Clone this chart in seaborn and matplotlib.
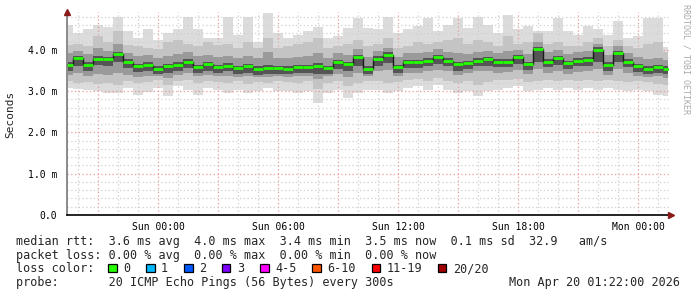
import numpy as np
import pandas as pd
import matplotlib
matplotlib.use("Agg")
import matplotlib.pyplot as plt
import matplotlib.dates as mdates
from matplotlib.ticker import MultipleLocator, FuncFormatter
from matplotlib.patches import Rectangle
import seaborn as sns

# ---------------- data (half-hour samples, Sat 19:30 -> Mon 01:30) ----------------
start_time = "2026-04-18 19:30"
n_points = 61

median_ms = [3.64, 3.80, 3.64, 3.79, 3.79, 3.90, 3.72, 3.60, 3.64, 3.55, 3.60, 3.64, 3.72, 3.58, 3.65, 3.58,
             3.62, 3.56, 3.60, 3.55, 3.57, 3.56, 3.55, 3.58, 3.58, 3.60, 3.56, 3.70, 3.65, 3.82, 3.55,
             3.79, 3.88, 3.58, 3.70, 3.70, 3.74, 3.82, 3.74, 3.65, 3.68, 3.74, 3.78, 3.72, 3.72, 3.82,
             3.66, 4.03, 3.72, 3.80, 3.68, 3.74, 3.76, 4.00, 3.64, 3.92, 3.72, 3.60, 3.55, 3.58, 3.55]

max_ms = [4.60, 4.40, 4.50, 4.60, 4.55, 4.80, 4.45, 4.30, 4.50, 4.25, 4.40, 4.50, 4.80, 4.50, 4.30, 4.30,
          4.80, 4.37, 4.80, 4.20, 4.90, 4.40, 4.30, 4.37, 4.45, 4.55, 4.30, 4.33, 4.53, 4.78, 4.53,
          4.50, 4.80, 4.40, 4.50, 4.57, 4.78, 4.45, 4.60, 4.78, 4.53, 4.80, 4.60, 4.40, 4.85, 4.50,
          4.57, 4.45, 4.45, 4.78, 4.45, 4.37, 4.57, 4.50, 4.37, 4.70, 4.30, 4.33, 4.78, 4.78, 4.08]

min_ms = [3.08, 3.06, 3.04, 3.00, 2.96, 2.96, 3.08, 2.91, 2.98, 3.08, 2.88, 3.12, 3.04, 2.92, 3.08, 3.04,
          2.96, 3.04, 2.96, 3.00, 3.08, 3.00, 3.00, 2.96, 3.00, 2.72, 2.96, 3.04, 2.84, 2.96, 3.04,
          3.04, 2.96, 3.00, 3.08, 3.12, 3.04, 3.16, 3.04, 2.96, 3.00, 2.88, 3.00, 3.04, 3.08, 3.12,
          3.00, 3.04, 3.08, 3.04, 3.08, 3.04, 3.08, 3.04, 3.08, 3.04, 3.00, 3.04, 3.00, 2.92, 2.88]

mid_top_ms = [4.12, 4.14, 4.10, 4.35, 4.20, 4.45, 4.12, 4.10, 4.05, 4.02, 4.20, 4.25, 4.15, 4.10, 4.20, 4.12,
              4.15, 4.05, 4.20, 4.05, 4.30, 4.05, 4.10, 4.15, 4.20, 4.30, 4.05, 4.10, 4.15, 4.25, 4.10,
              4.15, 4.30, 4.05, 4.10, 4.20, 4.15, 4.20, 4.25, 4.30, 4.15, 4.25, 4.20, 4.10, 4.35, 4.15,
              4.20, 4.40, 4.15, 4.20, 4.10, 4.10, 4.20, 4.30, 4.10, 4.25, 4.10, 4.05, 4.15, 4.20, 3.95]

mid_bot_ms = [3.25, 3.20, 3.22, 3.18, 3.20, 3.15, 3.25, 3.20, 3.22, 3.28, 3.15, 3.25, 3.28, 3.20, 3.25, 3.22,
              3.20, 3.25, 3.18, 3.22, 3.20, 3.24, 3.22, 3.20, 3.24, 3.05, 3.20, 3.25, 3.12, 3.20, 3.25,
              3.25, 3.20, 3.22, 3.28, 3.30, 3.25, 3.32, 3.25, 3.20, 3.24, 3.15, 3.22, 3.26, 3.28, 3.30,
              3.22, 3.25, 3.28, 3.25, 3.28, 3.25, 3.28, 3.25, 3.28, 3.25, 3.22, 3.25, 3.22, 3.18, 3.15]

in_top_ms = [3.92, 3.98, 3.90, 4.05, 3.98, 4.15, 3.92, 3.85, 3.88, 3.80, 3.85, 3.90, 3.95, 3.85, 3.88, 3.82,
             3.85, 3.80, 3.85, 3.80, 3.95, 3.80, 3.80, 3.82, 3.85, 3.92, 3.80, 3.92, 3.88, 4.02, 3.82,
             3.98, 4.05, 3.82, 3.92, 3.92, 3.95, 4.02, 3.95, 3.92, 3.90, 3.95, 3.98, 3.92, 3.98, 4.00,
             3.90, 4.20, 3.95, 4.00, 3.90, 3.95, 3.98, 4.15, 3.88, 4.10, 3.92, 3.82, 3.78, 3.80, 3.75]

in_bot_ms = [3.40, 3.45, 3.38, 3.42, 3.40, 3.45, 3.40, 3.35, 3.38, 3.36, 3.32, 3.40, 3.45, 3.36, 3.40, 3.36,
             3.38, 3.35, 3.36, 3.34, 3.35, 3.36, 3.35, 3.36, 3.38, 3.30, 3.36, 3.42, 3.35, 3.45, 3.36,
             3.50, 3.52, 3.38, 3.45, 3.45, 3.48, 3.52, 3.48, 3.40, 3.44, 3.48, 3.50, 3.45, 3.46, 3.52,
             3.42, 3.55, 3.45, 3.50, 3.42, 3.46, 3.48, 3.55, 3.40, 3.55, 3.45, 3.38, 3.35, 3.36, 3.32]

core_top_ms = [3.70, 3.86, 3.70, 3.85, 3.84, 3.96, 3.78, 3.66, 3.70, 3.62, 3.66, 3.70, 3.78, 3.64, 3.70, 3.64,
               3.68, 3.62, 3.66, 3.61, 3.64, 3.62, 3.61, 3.64, 3.64, 3.68, 3.62, 3.76, 3.71, 3.88, 3.61,
               3.85, 3.94, 3.64, 3.76, 3.76, 3.80, 3.88, 3.80, 3.71, 3.74, 3.80, 3.84, 3.78, 3.78, 3.88,
               3.72, 4.08, 3.78, 3.86, 3.74, 3.80, 3.82, 4.06, 3.70, 3.98, 3.78, 3.66, 3.61, 3.64, 3.61]

core_bot_ms = [3.50, 3.62, 3.50, 3.64, 3.62, 3.72, 3.56, 3.46, 3.50, 3.42, 3.44, 3.50, 3.56, 3.44, 3.50, 3.44,
               3.48, 3.42, 3.45, 3.40, 3.42, 3.42, 3.41, 3.44, 3.44, 3.42, 3.42, 3.55, 3.50, 3.62, 3.42,
               3.62, 3.68, 3.44, 3.56, 3.56, 3.60, 3.66, 3.60, 3.50, 3.54, 3.60, 3.62, 3.58, 3.58, 3.66,
               3.52, 3.72, 3.58, 3.64, 3.54, 3.60, 3.62, 3.70, 3.50, 3.70, 3.58, 3.46, 3.42, 3.44, 3.42]

loss_labels = ["0", "1", "2", "3", "4-5", "6-10", "11-19", "20/20"]
loss_colors = ["#26ff00", "#00b8ff", "#0059ff", "#7e00ff", "#ff00ff", "#ff5500", "#ff0000", "#a10000"]

stats_line = "median rtt:  3.6 ms avg  4.0 ms max  3.4 ms min  3.5 ms now  0.1 ms sd  32.9   am/s"
loss_line = "packet loss: 0.00 % avg  0.00 % max  0.00 % min  0.00 % now"
probe_line = "probe:       20 ICMP Echo Pings (56 Bytes) every 300s"
date_line = "Mon Apr 20 01:22:00 2026"

times = pd.date_range(start_time, periods=n_points, freq="30min")
df = pd.DataFrame({"time": times, "median": median_ms})

# ---------------- figure ----------------
sns.set_style("white")
plt.rcParams["font.family"] = ["DejaVu Sans Mono", "DejaVu Sans"]

W, H = 697, 297
fig = plt.figure(figsize=(W / 100, H / 100), dpi=100)
fig.patch.set_facecolor("white")
ax = fig.add_axes([67 / W, 1 - 215 / H, (669 - 67) / W, (215 - 12) / H])

bands = [(min_ms, max_ms, "#dcdcdc", 1),
         (mid_bot_ms, mid_top_ms, "#c4c4c4", 3),
         (in_bot_ms, in_top_ms, "#9a9a9a", 3),
         (core_bot_ms, core_top_ms, "#555555", 3)]
for lo, hi, c, z in bands:
    ax.fill_between(times, lo, hi, step="mid", color=c, lw=0, zorder=z)

# median: thin dark step connectors + green horizontal segments
sns.lineplot(data=df, x="time", y="median", ax=ax, color="#1a1a1a", lw=1.0,
             drawstyle="steps-mid", zorder=4)
half = pd.Timedelta(minutes=15)
ax.hlines(df["median"], df["time"] - half, df["time"] + half, color="#22ff00", lw=2.0, zorder=5)

ax.set_xlim(pd.Timestamp("2026-04-18 19:27"), pd.Timestamp("2026-04-20 01:33"))
ax.set_ylim(0, 4.92)

# ticks / grid
ax.xaxis.set_major_locator(mdates.HourLocator(byhour=range(0, 24, 3)))
ax.xaxis.set_minor_locator(mdates.HourLocator())
ax.xaxis.set_major_formatter(FuncFormatter(
    lambda v, p: mdates.num2date(v).strftime("%a %H:%M") if mdates.num2date(v).hour % 6 == 0 else ""))
ax.yaxis.set_major_locator(MultipleLocator(1.0))
ax.yaxis.set_minor_locator(MultipleLocator(0.2))
ax.yaxis.set_major_formatter(FuncFormatter(lambda v, p: "0.0" if abs(v) < 1e-9 else f"{v:.1f} m"))

ax.set_axisbelow(False)
ax.grid(which="minor", color="#cfcfcf", ls=(0, (1, 2)), lw=0.9, zorder=2)
ax.grid(which="major", color="#e99a9a", ls=(0, (1, 2)), lw=0.9, zorder=2)
for gl in ax.get_xgridlines() + ax.get_ygridlines():
    gl.set_zorder(2)
for gl in ax.xaxis.get_minorticklines():
    pass

ax.tick_params(axis="both", which="major", labelsize=7, length=3, width=0.8, colors="#888888",
               labelcolor="black", pad=4)
ax.tick_params(axis="both", which="minor", length=2, width=0.8, colors="#aaaaaa")
ax.tick_params(axis="x", which="major", pad=2)
ax.set_xlabel("")
ax.set_ylabel("")

for s in ["top", "right"]:
    ax.spines[s].set_visible(False)
ax.spines["left"].set_color("#777777")
ax.spines["left"].set_linewidth(1.2)
ax.spines["bottom"].set_color("black")
ax.spines["bottom"].set_linewidth(1.2)
ax.spines["left"].set_zorder(6)
ax.spines["bottom"].set_zorder(6)

# axis arrows
ax.plot([0], [1.0], marker="^", ms=4, color="#8b1a1a", transform=ax.transAxes, clip_on=False, zorder=7)
ax.plot([1.003], [0], marker=">", ms=4, color="#8b1a1a", transform=ax.transAxes, clip_on=False, zorder=7)

# y label and watermark
fig.text(10 / W, 1 - 114 / H, "Seconds", rotation=90, ha="center", va="center", fontsize=8)
fig.text(686 / W, 1 - 4 / H, "RRDTOOL / TOBI OETIKER", rotation=270, ha="center", va="top",
         fontsize=6, color="#aaaaaa")

# legend text
fs = 8.5
fig.text(16 / W, 1 - 241.5 / H, stats_line, ha="left", va="center", fontsize=fs)
fig.text(16 / W, 1 - 255.5 / H, loss_line, ha="left", va="center", fontsize=fs)
fig.text(16 / W, 1 - 268.5 / H, "loss color:", ha="left", va="center", fontsize=fs)
fig.text(16 / W, 1 - 282.5 / H, probe_line, ha="left", va="center", fontsize=fs)
fig.text(680 / W, 1 - 282.5 / H, date_line, ha="right", va="center", fontsize=fs)

x0 = 108.0
for lab, col in zip(loss_labels, loss_colors):
    fig.add_artist(Rectangle((x0 / W, 1 - 272 / H), 8.5 / W, 8.5 / H, transform=fig.transFigure,
                             facecolor=col, edgecolor="black", lw=0.9))
    fig.text((x0 + 15) / W, 1 - 268.5 / H, lab, ha="left", va="center", fontsize=fs)
    x0 += 30.9 + 7.1 * len(lab)

fig.savefig("out.png", dpi=100, facecolor="white")
